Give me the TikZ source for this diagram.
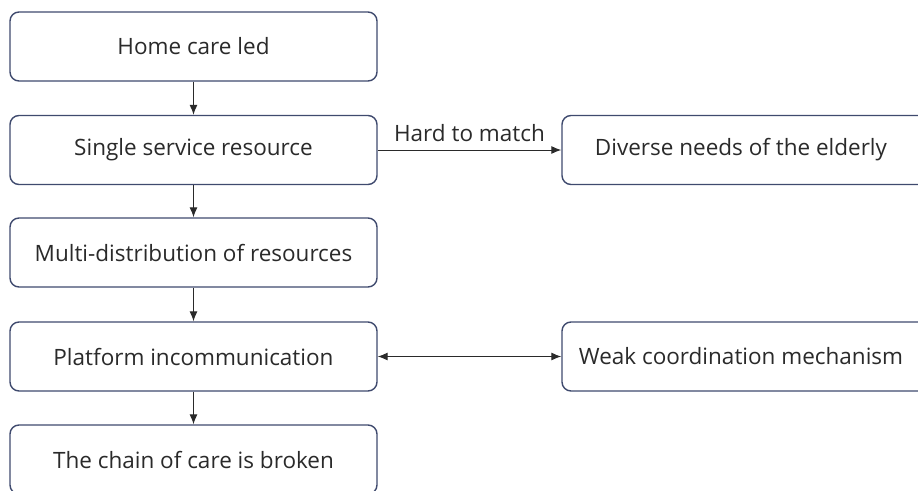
\documentclass[tikz,border=0pt]{standalone}
\usepackage{fontspec}
\setmainfont{Open Sans}
\usetikzlibrary{arrows.meta}
\definecolor{boxline}{HTML}{3F4A6E}
\definecolor{txt}{HTML}{2A2A2A}
\begin{document}
\begin{tikzpicture}[x=1pt,y=-1pt,
  box/.style={draw=boxline, line width=1.4pt, rounded corners=9pt, fill=white,
    minimum height=69pt, inner sep=0pt, text=txt, font=\fontsize{22.5}{26}\selectfont},
  lbox/.style={box, minimum width=367pt},
  rbox/.style={box, minimum width=382pt},
  arr/.style={draw=txt, line width=1pt, -{Latex[length=10pt,width=8pt]}},
  darr/.style={draw=txt, line width=1pt, {Latex[length=10pt,width=8pt]}-{Latex[length=10pt,width=8pt]}}]
\useasboundingbox (0,0) rectangle (918,490);
\node[lbox] (a) at (193.5,46.5) {Home care led};
\node[lbox] (b) at (193.5,150) {Single service resource};
\node[lbox] (c) at (193.5,252.5) {Multi-distribution of resources};
\node[lbox] (d) at (193.5,356.5) {Platform incommunication};
\node[lbox] (e) at (193.5,459.5) {The chain of care is broken};
\node[rbox] (f) at (753,150) {Diverse needs of the elderly\hspace*{24pt}};
\node[rbox] (g) at (753,356.5) {Weak coordination mechanism\hspace*{24pt}};
\draw[arr] (a) -- (b);
\draw[arr] (b) -- (c);
\draw[arr] (c) -- (d);
\draw[arr] (d) -- (e);
\draw[arr] (b) -- node[above=4pt, text=txt, font=\fontsize{22.5}{26}\selectfont] (lab) {Hard to match} (f);
\draw[darr] (d) -- (g);
\end{tikzpicture}
\end{document}
